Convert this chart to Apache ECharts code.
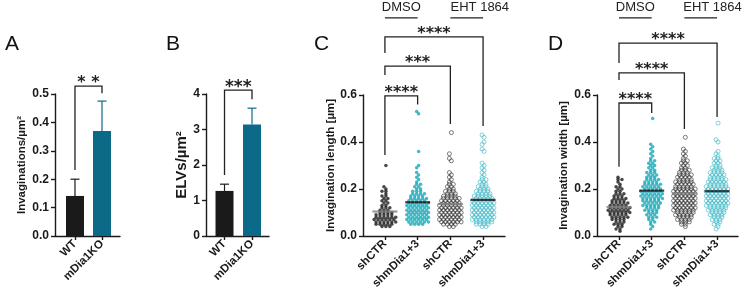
<!DOCTYPE html>
<html>
<head>
<meta charset="utf-8">
<script src="https://cdn.jsdelivr.net/npm/echarts@6/dist/echarts.min.js"></script>
<style>
  html, body { margin: 0; background: #fff; }
  #chart { width: 743px; height: 290px; }
</style>
</head>
<body>
<div id="chart"></div>
<script>
// A and B: mean + SD per genotype
const genotypes = ['WT', 'mDia1KO'];
const invagDensity = [0.141, 0.370];
const invagDensityErr = [0.059, 0.105];
const elvDensity = [1.27, 3.14];
const elvDensityErr = [0.19, 0.46];

// C and D: knockdown groups under two treatments
const groupsCD = ['shCTR', 'shmDia1+3', 'shCTR', 'shmDia1+3'];
const treatments = ['DMSO', 'EHT 1864'];

// beeswarm counts: number of points per 0.01 µm bin, starting at 0.00
const lengthShCtrDmso = [0,0,0,0,3,5,6,6,6,5, 4,3,3,2,2,2,2,2,1,2, 1,1,0,0,0,0,0,0,0,0, 1];
const lengthShDiaDmso = [0,0,0,0,0,4,6,6,6,6, 6,6,6,6,6,5,5,4,4,3, 2,2,2,1,1,1,1,1,0,1,
  1,0,0,0,0,0,1,0,0,0, 0,0,0,0,0,0,0,0,0,0, 0,0,1,1];
const lengthShCtrEht = [0,0,0,0,2,4,6,6,6,6, 6,6,6,6,5,5,5,4,3,3, 2,2,2,1,1,1,1,1,0,0,
  0,0,1,1,0,1,0,0,0,0, 0,0,0,0,1];
const lengthShDiaEht = [0,0,0,0,2,4,5,6,6,6, 6,6,6,6,6,6,5,5,4,4, 3,3,2,2,2,1,1,1,1,1,
  1,1,0,0,0,0,1,1,0,1, 1,0,1,1];

const widthShCtrDmso = [0,0,1,2,2,3,3,4,5,5, 6,6,6,5,5,4,4,3,3,2, 2,2,1,1,2,1];
const widthShDiaDmso = [0,0,0,1,1,1,2,2,3,3, 3,4,4,5,5,5,6,6,6,6, 5,5,5,4,4,3,3,3,2,2,
  2,2,2,1,1,1,1,1,1,1, 0,0,0,0,0,0,0,0,0,0, 1];
const widthShCtrEht = [0,0,0,0,1,2,3,4,4,5, 5,6,6,6,6,6,6,6,6,6, 6,5,5,5,4,4,4,3,3,2,
  2,2,2,1,1,1,1,1,0,0, 0,0,1];
const widthShDiaEht = [0,0,0,1,1,2,2,3,3,4, 4,5,5,6,6,6,6,6,6,6, 6,6,5,5,5,4,4,4,3,3,
  2,2,2,2,1,1,1,0,0,0, 1,1,0,0,0,0,0,0,1];

// significance labels for each comparison
const sigA = ['**'];
const sigB = ['***'];
const sigC = ['****', '***', '****'];
const sigD = ['****', '****', '****'];

// ---- layout ----
const FONT = 'Arial, "Liberation Sans", Helvetica, sans-serif';
const STAR_FONT = '"DejaVu Sans", sans-serif';
const INK = '#1a1a1a';
const TEAL_BAR = '#0b6a88';
const TEAL_DOT = '#17a6b6';
const TEAL_RING = '#3cb7c4';
const MEAN_GRAY = '#808080';
const BIN = 0.01;
const SWARM_STEP = 0.12;

// bracket geometry in data units: [fromCat, toCat, top, leftFoot, rightFoot]
const bracketsA = [[0, 1, 0.528, 0.232, 0.503]];
const bracketsB = [[0, 1, 4.11, 1.72, 3.85]];
const bracketsC = [[0, 1, 0.596, 0.345, 0.56], [0, 2, 0.723, 0.685, 0.477], [0, 3, 0.847, 0.779, 0.468]];
const bracketsD = [[0, 1, 0.566, 0.295, 0.523], [0, 2, 0.694, 0.664, 0.455], [0, 3, 0.821, 0.736, 0.506]];
// treatment headers: [fromCat, toCat, textX, lineY, textY]
const headersC = [[0, 1, 0.5, 0.928, 0.972], [2, 3, 2.9, 0.928, 0.972]];
const headersD = [[0, 1, 0.5, 0.928, 0.972], [2, 3, 2.86, 0.928, 0.972]];

// beeswarm placement: points in one bin sit side by side, alternate rows nudged half a slot
function swarm(counts, cat) {
  const pts = [];
  counts.forEach(function (n, i) {
    const nudge = (i % 2 === 0 ? 0.25 : -0.25) * SWARM_STEP;
    for (let k = 0; k < n; k++) {
      pts.push([cat + (k - (n - 1) / 2) * SWARM_STEP + nudge, +(i * BIN).toFixed(2)]);
    }
  });
  return pts;
}

function mean(counts) {
  let s = 0, c = 0;
  counts.forEach(function (n, i) { s += n * i * BIN; c += n; });
  return s / c;
}

function catAxis(gi, names, min, max) {
  const vals = names.map(function (_, i) { return i; });
  return {
    gridIndex: gi, type: 'value', min: min, max: max,
    splitLine: { show: false },
    axisLine: { onZero: false, lineStyle: { color: INK, width: 1.4 } },
    axisTick: { customValues: vals, length: 4, lineStyle: { color: INK, width: 1.4 } },
    axisLabel: {
      customValues: vals, formatter: function (v) { return names[Math.round(v)]; },
      rotate: 45, margin: 6, color: INK, fontWeight: 'bold', fontSize: 11.5, fontFamily: FONT
    }
  };
}

function valAxis(gi, max, interval, digits, name, nameGap, nameSize) {
  return {
    gridIndex: gi, type: 'value', min: 0, max: max, interval: interval,
    name: name, nameLocation: 'middle', nameGap: nameGap, nameRotate: 90,
    nameTextStyle: { color: INK, fontWeight: 'bold', fontSize: nameSize, fontFamily: FONT },
    splitLine: { show: false },
    axisLine: { show: true, onZero: false, lineStyle: { color: INK, width: 1.4 } },
    axisTick: { show: true, length: 4, lineStyle: { color: INK, width: 1.4 } },
    axisLabel: {
      formatter: function (v) { return v.toFixed(digits); },
      margin: 6, color: INK, fontWeight: 'bold', fontSize: 12, fontFamily: FONT
    }
  };
}

function bracketSeries(gi, data, labels, starSize) {
  return {
    type: 'custom', xAxisIndex: gi, yAxisIndex: gi, z: 4, silent: true,
    data: data,
    renderItem: function (params, api) {
      const a = api.coord([api.value(0), api.value(2)]);
      const b = api.coord([api.value(1), api.value(2)]);
      const aFoot = api.coord([api.value(0), api.value(3)]);
      const bFoot = api.coord([api.value(1), api.value(4)]);
      return {
        type: 'group',
        children: [
          { type: 'polyline', shape: { points: [aFoot, a, b, bFoot] },
            style: { stroke: '#222', lineWidth: 1.3, fill: null } },
          { type: 'text', x: (a[0] + b[0]) / 2, y: a[1] - 3,
            style: { text: labels[params.dataIndex], fill: '#222', font: 'bold ' + starSize + 'px ' + STAR_FONT,
              align: 'center', verticalAlign: 'middle' } }
        ]
      };
    }
  };
}

function headerSeries(gi, data) {
  return {
    type: 'custom', xAxisIndex: gi, yAxisIndex: gi, z: 4, silent: true,
    data: data,
    renderItem: function (params, api) {
      const a = api.coord([api.value(0), api.value(3)]);
      const b = api.coord([api.value(1), api.value(3)]);
      const t = api.coord([api.value(2), api.value(4)]);
      return {
        type: 'group',
        children: [
          { type: 'line', shape: { x1: a[0], y1: a[1], x2: b[0], y2: b[1] },
            style: { stroke: '#222', lineWidth: 1.3 } },
          { type: 'text', x: t[0], y: t[1],
            style: { text: treatments[params.dataIndex], fill: '#222', font: '13px ' + FONT,
              align: 'center', verticalAlign: 'middle' } }
        ]
      };
    }
  };
}

function barSeries(gi, values, errs) {
  const colors = [INK, TEAL_BAR];
  return [
    {
      type: 'bar', xAxisIndex: gi, yAxisIndex: gi, barWidth: 18,
      data: values.map(function (v, i) { return { value: [i, v], itemStyle: { color: colors[i] } }; })
    },
    {
      type: 'custom', xAxisIndex: gi, yAxisIndex: gi, z: 3,
      data: values.map(function (v, i) { return [i, v, errs[i]]; }),
      renderItem: function (params, api) {
        const base = api.coord([api.value(0), api.value(1)]);
        const top = api.coord([api.value(0), api.value(1) + api.value(2)]);
        const c = colors[params.dataIndex];
        return {
          type: 'group',
          children: [
            { type: 'line', shape: { x1: top[0], y1: base[1], x2: top[0], y2: top[1] }, style: { stroke: c, lineWidth: 1.2 } },
            { type: 'line', shape: { x1: top[0] - 4.5, y1: top[1], x2: top[0] + 4.5, y2: top[1] }, style: { stroke: c, lineWidth: 1.2 } }
          ]
        };
      }
    }
  ];
}

function swarmSeries(gi, groups) {
  const styles = [
    { symbolSize: 3.5, itemStyle: { color: INK } },
    { symbolSize: 3.5, itemStyle: { color: TEAL_DOT } },
    { symbolSize: 4, itemStyle: { color: 'rgba(0,0,0,0)', borderColor: '#333', borderWidth: 0.8 } },
    { symbolSize: 4, itemStyle: { color: 'rgba(0,0,0,0)', borderColor: TEAL_RING, borderWidth: 0.8 } }
  ];
  const list = groups.map(function (counts, i) {
    return Object.assign({
      type: 'scatter', xAxisIndex: gi, yAxisIndex: gi, symbol: 'circle', silent: true,
      data: swarm(counts, i)
    }, styles[i]);
  });
  list.push({
    type: 'scatter', xAxisIndex: gi, yAxisIndex: gi, symbol: 'rect', symbolSize: [25, 2.2], z: 5, silent: true,
    data: groups.map(function (counts, i) {
      return { value: [i, mean(counts)], itemStyle: { color: i % 2 === 0 ? MEAN_GRAY : '#111' } };
    })
  });
  return list;
}

const chart = echarts.init(document.getElementById('chart'));

const letterStyle = { fontSize: 21, fontWeight: 'normal', color: '#111', fontFamily: FONT };

const option = {
  animation: false,
  backgroundColor: '#fff',
  title: [
    { text: 'A', left: 0, top: 29, textStyle: letterStyle },
    { text: 'B', left: 161, top: 29, textStyle: letterStyle },
    { text: 'C', left: 309, top: 29, textStyle: letterStyle },
    { text: 'D', left: 543, top: 29, textStyle: letterStyle }
  ],
  grid: [
    { left: 55, top: 94, width: 65, height: 142 },
    { left: 206, top: 94, width: 63, height: 142 },
    { left: 363, top: 95, width: 142, height: 141 },
    { left: 597, top: 95, width: 141, height: 141 }
  ].map(function (g) { return Object.assign({ outerBoundsMode: 'none', containLabel: false }, g); }),
  xAxis: [
    catAxis(0, genotypes, -0.74, 1.667),
    catAxis(1, genotypes, -0.673, 1.618),
    catAxis(2, groupsCD, -0.67, 3.67),
    catAxis(3, groupsCD, -0.673, 3.64)
  ],
  yAxis: [
    valAxis(0, 0.5, 0.1, 1, 'Invaginations/µm²', 27, 11.5),
    valAxis(1, 4, 1, 0, 'ELVs/µm²', 16, 15),
    valAxis(2, 0.6, 0.2, 1, 'Invagination length [µm]', 26, 11.5),
    valAxis(3, 0.6, 0.2, 1, 'Invagination width [µm]', 27, 11.5)
  ],
  series: [].concat(
    barSeries(0, invagDensity, invagDensityErr),
    barSeries(1, elvDensity, elvDensityErr),
    [bracketSeries(0, bracketsA, sigA.map(function (s) { return s.split('').join(' '); }), 16)],
    [bracketSeries(1, bracketsB, sigB, 17)],
    swarmSeries(2, [lengthShCtrDmso, lengthShDiaDmso, lengthShCtrEht, lengthShDiaEht]),
    swarmSeries(3, [widthShCtrDmso, widthShDiaDmso, widthShCtrEht, widthShDiaEht]),
    [bracketSeries(2, bracketsC, sigC, 16), headerSeries(2, headersC)],
    [bracketSeries(3, bracketsD, sigD, 16), headerSeries(3, headersD)]
  )
};

chart.setOption(option);
</script>
</body>
</html>
